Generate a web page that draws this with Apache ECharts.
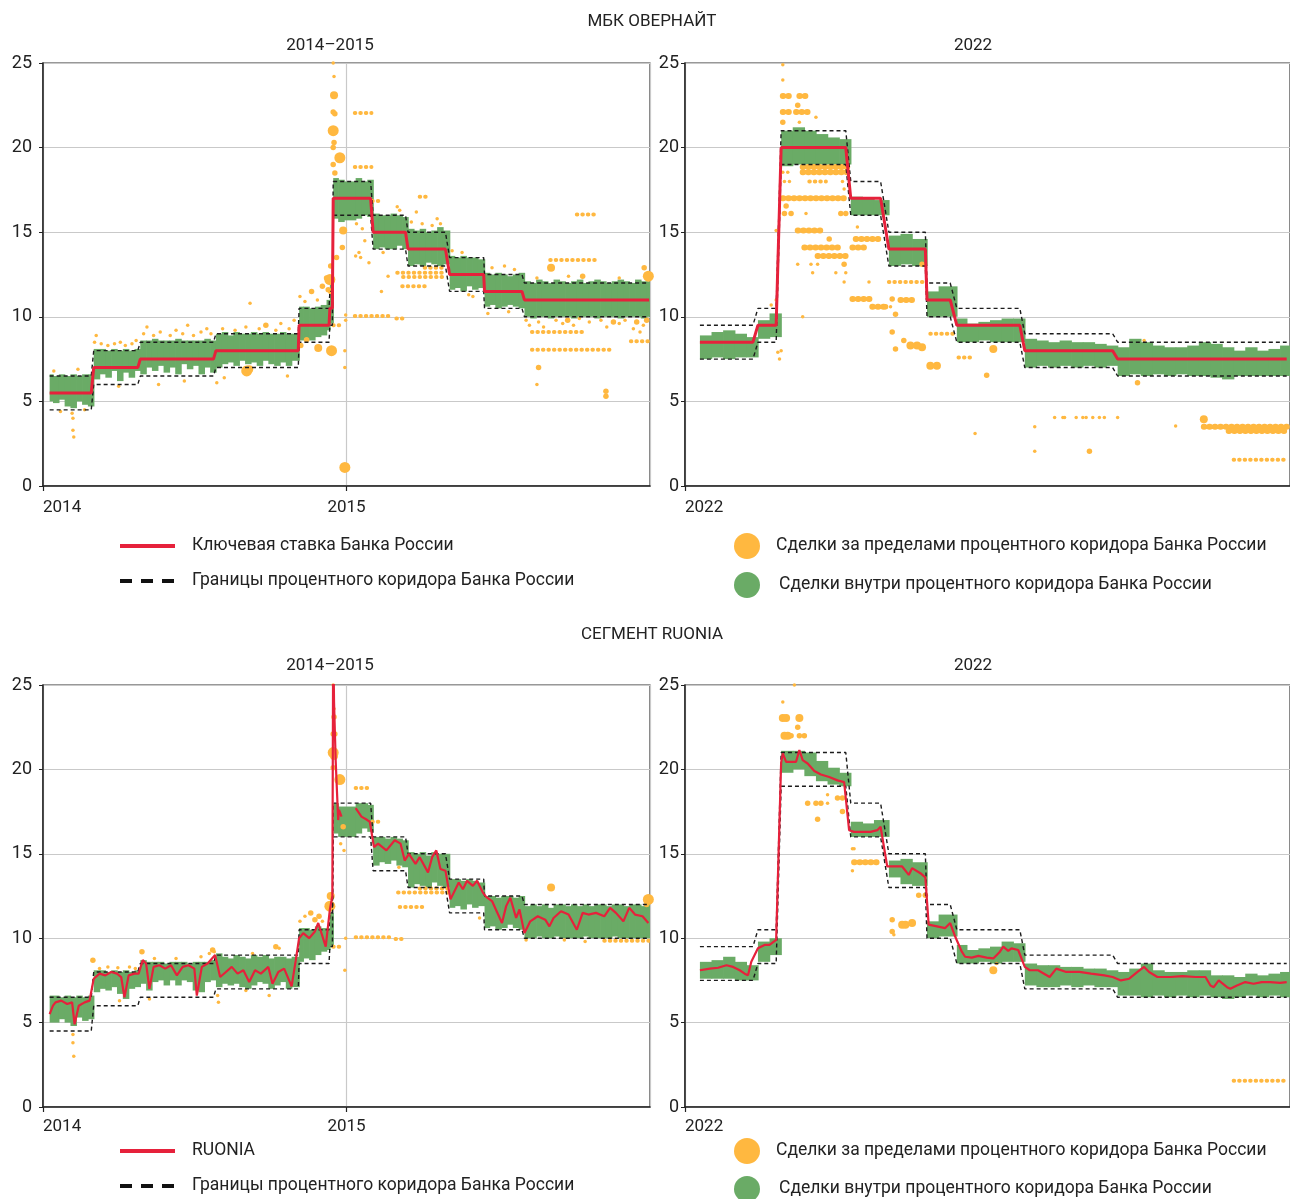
<!DOCTYPE html>
<html><head><meta charset="utf-8">
<script src="https://cdn.jsdelivr.net/npm/echarts/dist/echarts.min.js"></script>
<style>html,body{margin:0;padding:0;background:#fff}#c{width:1290px;height:1199px}</style>
</head><body><div id="c"></div><script>
// ---------- key rate & corridor ----------
const stepDates14 = ["2014-01-09","2014-02-28","2014-03-03","2014-04-25","2014-04-28","2014-07-25","2014-07-28","2014-11-04","2014-11-05","2014-12-11","2014-12-12","2014-12-15","2014-12-16","2015-01-30","2015-02-02","2015-03-13","2015-03-16","2015-04-30","2015-05-05","2015-06-15","2015-06-16","2015-07-31","2015-08-03","2015-12-31"];
const keyRate14  = [5.5,5.5,7,7,7.5,7.5,8,8,9.5,9.5,10.5,10.5,17,17,15,15,14,14,12.5,12.5,11.5,11.5,11,11];
const corrLow14  = [4.5,4.5,6,6,6.5,6.5,7,7,8.5,8.5,9.5,9.5,16,16,14,14,13,13,11.5,11.5,10.5,10.5,10,10];
const corrHigh14 = [6.5,6.5,8,8,8.5,8.5,9,9,10.5,10.5,11.5,11.5,18,18,16,16,15,15,13.5,13.5,12.5,12.5,12,12];

const stepDates22 = ["2022-01-10","2022-02-11","2022-02-14","2022-02-25","2022-02-28","2022-04-08","2022-04-11","2022-04-29","2022-05-04","2022-05-26","2022-05-27","2022-06-10","2022-06-14","2022-07-22","2022-07-25","2022-09-16","2022-09-19","2022-12-30"];
const keyRate22  = [8.5,8.5,9.5,9.5,20,20,17,17,14,14,11,11,9.5,9.5,8,8,7.5,7.5];
const corrLow22  = [7.5,7.5,8.5,8.5,19,19,16,16,13,13,10,10,8.5,8.5,7,7,6.5,6.5];
const corrHigh22 = [9.5,9.5,10.5,10.5,21,21,18,18,15,15,12,12,10.5,10.5,9,9,8.5,8.5];

// ---------- deals inside corridor: [week start, low, high] ----------
const mbkInside14 = [
["2014-01-09",5.0,6.6],["2014-01-13",4.9,6.5],["2014-01-20",5.1,6.6],["2014-01-27",4.7,6.5],["2014-02-03",4.6,6.6],["2014-02-10",5.0,6.5],["2014-02-17",4.8,6.6],["2014-02-24",4.7,6.6],
["2014-03-03",6.3,8.1],["2014-03-10",6.6,8.1],["2014-03-17",6.4,8.0],["2014-03-24",6.8,8.1],["2014-03-31",6.2,8.0],["2014-04-07",6.7,8.1],["2014-04-14",6.4,8.0],["2014-04-21",6.8,8.1],
["2014-04-28",6.6,8.6],["2014-05-05",7.0,8.6],["2014-05-12",6.8,8.7],["2014-05-19",7.1,8.6],["2014-05-26",6.7,8.6],["2014-06-02",7.0,8.6],["2014-06-09",6.6,8.7],["2014-06-16",7.2,8.6],["2014-06-23",6.9,8.6],["2014-06-30",7.1,8.6],["2014-07-07",6.6,8.6],["2014-07-14",7.0,8.7],["2014-07-21",6.7,8.6],
["2014-07-28",7.0,9.0],["2014-08-04",7.2,9.1],["2014-08-11",7.3,8.9],["2014-08-18",7.1,9.1],["2014-08-25",7.4,9.0],["2014-09-01",7.2,9.0],["2014-09-08",7.3,9.1],["2014-09-15",7.1,9.0],["2014-09-22",7.4,9.1],["2014-09-29",7.2,9.0],["2014-10-06",7.1,9.0],["2014-10-13",7.3,9.1],["2014-10-20",7.1,9.0],["2014-10-27",7.4,9.0],
["2014-11-05",8.6,10.6],["2014-11-10",8.7,10.6],["2014-11-17",8.6,10.5],["2014-11-24",8.8,10.6],["2014-12-01",8.9,10.7],["2014-12-08",9.2,11.0],
["2014-12-12",9.6,12.0],["2014-12-16",15.8,18.2],["2014-12-22",15.6,18.1],["2014-12-29",15.7,18.0],["2015-01-12",15.8,18.2],["2015-01-19",16.0,18.0],["2015-01-26",15.9,18.1],
["2015-02-02",14.0,16.1],["2015-02-09",14.1,16.0],["2015-02-16",14.0,16.0],["2015-02-23",14.0,16.1],["2015-03-02",14.2,16.0],["2015-03-09",14.0,15.9],
["2015-03-16",13.0,15.2],["2015-03-23",13.1,15.1],["2015-03-30",13.0,15.2],["2015-04-06",13.2,15.0],["2015-04-13",13.1,15.1],["2015-04-20",13.0,15.3],["2015-04-27",13.1,15.1],
["2015-05-05",11.6,13.6],["2015-05-11",11.7,13.5],["2015-05-18",11.5,13.6],["2015-05-25",11.8,13.5],["2015-06-01",11.6,13.5],["2015-06-08",11.7,13.4],
["2015-06-16",10.6,12.6],["2015-06-22",10.7,12.5],["2015-06-29",10.5,12.6],["2015-07-06",10.6,12.5],["2015-07-13",10.7,12.4],["2015-07-20",10.6,12.5],["2015-07-27",10.5,12.6],
["2015-08-03",10.0,12.1],["2015-08-10",9.9,12.0],["2015-08-17",10.0,12.2],["2015-08-24",10.0,12.1],["2015-08-31",9.9,12.0],["2015-09-07",10.0,12.2],["2015-09-14",10.0,12.1],["2015-09-21",10.0,12.0],["2015-09-28",9.9,12.1],["2015-10-05",10.0,12.2],["2015-10-12",10.0,12.0],["2015-10-19",10.0,12.1],["2015-10-26",9.9,12.2],["2015-11-02",10.0,12.1],["2015-11-09",10.0,12.0],["2015-11-16",10.0,12.1],["2015-11-23",9.9,12.2],["2015-11-30",10.0,12.1],["2015-12-07",10.0,12.0],["2015-12-14",10.0,12.2],["2015-12-21",9.9,12.1],["2015-12-28",10.0,12.1]
];
const mbkInside22 = [
["2022-01-10",7.5,8.9],["2022-01-17",7.6,9.1],["2022-01-24",7.5,9.2],["2022-01-31",7.6,9.0],["2022-02-07",7.6,8.8],
["2022-02-14",8.7,9.8],["2022-02-21",8.8,10.2],
["2022-02-28",18.9,21.0],["2022-03-07",19.0,21.2],["2022-03-14",19.0,21.0],["2022-03-21",19.0,20.8],["2022-03-28",19.0,20.6],["2022-04-04",19.0,20.5],
["2022-04-11",16.0,17.1],["2022-04-18",16.0,17.0],["2022-04-25",16.0,16.9],
["2022-05-04",13.0,14.8],["2022-05-11",13.1,14.9],["2022-05-18",13.0,14.6],
["2022-05-27",10.0,11.5],["2022-06-03",10.0,11.8],
["2022-06-14",8.5,9.9],["2022-06-20",8.5,9.6],["2022-06-27",8.6,9.7],["2022-07-04",8.5,9.8],["2022-07-11",8.5,9.9],["2022-07-18",8.5,9.9],
["2022-07-25",7.0,8.7],["2022-08-01",7.1,8.6],["2022-08-08",7.0,8.5],["2022-08-15",7.1,8.6],["2022-08-22",7.0,8.5],["2022-08-29",7.1,8.5],["2022-09-05",7.0,8.4],["2022-09-12",7.1,8.3],
["2022-09-19",6.5,8.2],["2022-09-26",6.6,8.7],["2022-10-03",6.5,8.5],["2022-10-10",6.6,8.3],["2022-10-17",6.5,8.2],["2022-10-24",6.6,8.2],["2022-10-31",6.5,8.3],["2022-11-07",6.5,8.5],["2022-11-14",6.4,8.4],["2022-11-21",6.3,8.2],["2022-11-28",6.5,8.0],["2022-12-05",6.5,8.2],["2022-12-12",6.5,8.0],["2022-12-19",6.5,8.1],["2022-12-26",6.5,8.3]
];
const ruoniaInside14 = [
["2014-01-09",5.0,6.6],["2014-01-20",5.2,6.5],["2014-01-27",5.0,6.6],["2014-02-03",4.8,6.5],["2014-02-10",5.3,6.6],["2014-02-17",5.1,6.5],["2014-02-24",5.2,6.6],
["2014-03-03",6.8,8.1],["2014-03-10",7.0,8.1],["2014-03-17",6.9,8.0],["2014-03-24",7.1,8.1],["2014-03-31",6.7,8.0],["2014-04-07",6.4,8.1],["2014-04-14",7.0,8.0],["2014-04-21",7.1,8.1],
["2014-04-28",7.3,8.7],["2014-05-05",6.9,8.6],["2014-05-12",7.4,8.6],["2014-05-19",7.5,8.6],["2014-05-26",7.2,8.5],["2014-06-02",7.5,8.6],["2014-06-09",7.2,8.6],["2014-06-16",7.5,8.6],["2014-06-23",7.4,8.5],["2014-06-30",6.9,8.6],["2014-07-07",6.8,8.6],["2014-07-14",7.4,8.6],["2014-07-21",7.5,8.7],
["2014-07-28",7.1,9.1],["2014-08-04",7.3,8.9],["2014-08-11",7.2,8.8],["2014-08-18",7.3,9.0],["2014-08-25",7.1,8.9],["2014-09-01",7.0,8.8],["2014-09-08",7.2,9.0],["2014-09-15",7.4,8.9],["2014-09-22",7.3,9.0],["2014-09-29",7.0,8.8],["2014-10-06",7.2,8.9],["2014-10-13",7.4,8.9],["2014-10-20",7.0,8.8],["2014-10-27",7.1,8.9],
["2014-11-05",8.6,10.6],["2014-11-10",8.8,10.6],["2014-11-17",8.7,10.5],["2014-11-24",9.0,10.7],["2014-12-01",9.2,10.6],["2014-12-08",9.3,10.6],
["2014-12-12",9.5,11.5],["2014-12-16",16.2,18.0],["2014-12-22",16.0,17.8],["2015-01-12",16.2,18.0],["2015-01-19",16.5,18.0],["2015-01-26",16.3,17.9],
["2015-02-02",14.3,16.0],["2015-02-09",14.5,16.0],["2015-02-16",14.4,15.9],["2015-02-23",14.6,16.0],["2015-03-02",14.3,15.9],["2015-03-09",14.2,15.8],
["2015-03-16",13.0,15.1],["2015-03-23",13.2,15.0],["2015-03-30",13.1,15.1],["2015-04-06",13.0,14.9],["2015-04-13",13.3,15.1],["2015-04-20",13.1,15.0],["2015-04-27",13.0,15.0],
["2015-05-05",11.8,13.5],["2015-05-11",11.9,13.5],["2015-05-18",11.7,13.4],["2015-05-25",12.0,13.5],["2015-06-01",11.8,13.4],["2015-06-08",11.9,13.3],
["2015-06-16",10.6,12.5],["2015-06-22",10.7,12.5],["2015-06-29",10.5,12.4],["2015-07-06",10.6,12.5],["2015-07-13",10.8,12.5],["2015-07-20",10.6,12.4],["2015-07-27",10.5,12.5],
["2015-08-03",10.0,11.9],["2015-08-10",10.0,12.0],["2015-08-17",10.1,11.9],["2015-08-24",10.0,12.0],["2015-08-31",10.0,11.8],["2015-09-07",10.1,12.0],["2015-09-14",10.0,12.0],["2015-09-21",10.0,11.9],["2015-09-28",10.0,12.0],["2015-10-05",10.0,11.9],["2015-10-12",10.1,12.0],["2015-10-19",10.0,11.9],["2015-10-26",10.0,12.0],["2015-11-02",10.0,12.0],["2015-11-09",10.0,11.9],["2015-11-16",10.1,12.0],["2015-11-23",10.0,12.0],["2015-11-30",10.0,11.9],["2015-12-07",10.0,12.0],["2015-12-14",10.0,12.0],["2015-12-21",10.0,11.9],["2015-12-28",10.0,12.0]
];
const ruoniaInside22 = [
["2022-01-10",7.6,8.6],["2022-01-17",7.6,8.7],["2022-01-24",7.6,8.9],["2022-01-31",7.5,8.6],["2022-02-07",7.5,8.4],
["2022-02-14",8.6,9.8],["2022-02-21",9.0,10.0],
["2022-02-28",19.8,21.1],["2022-03-07",20.0,21.1],["2022-03-14",19.6,21.0],["2022-03-21",19.3,20.5],["2022-03-28",19.1,20.1],["2022-04-04",19.0,19.8],
["2022-04-11",16.0,16.9],["2022-04-18",16.0,16.8],["2022-04-25",16.0,17.0],
["2022-05-04",13.6,14.6],["2022-05-11",13.2,14.7],["2022-05-18",13.1,14.5],
["2022-05-27",10.0,11.0],["2022-06-03",10.1,11.4],
["2022-06-14",8.5,9.6],["2022-06-20",8.5,9.3],["2022-06-27",8.6,9.4],["2022-07-04",8.5,9.5],["2022-07-11",8.6,9.8],["2022-07-18",8.6,9.7],
["2022-07-25",7.2,8.5],["2022-08-01",7.1,8.4],["2022-08-08",7.1,8.4],["2022-08-15",7.2,8.3],["2022-08-22",7.1,8.3],["2022-08-29",7.2,8.2],["2022-09-05",7.1,8.2],["2022-09-12",7.1,8.1],
["2022-09-19",6.6,8.0],["2022-09-26",6.6,8.2],["2022-10-03",6.5,8.5],["2022-10-10",6.6,8.1],["2022-10-17",6.5,8.0],["2022-10-24",6.6,8.0],["2022-10-31",6.5,8.1],["2022-11-07",6.6,8.1],["2022-11-14",6.5,7.8],["2022-11-21",6.4,7.8],["2022-11-28",6.5,7.7],["2022-12-05",6.6,7.9],["2022-12-12",6.5,7.8],["2022-12-19",6.6,7.9],["2022-12-26",6.5,8.0]
];

// ---------- deals outside corridor: [date, rate, volume class] ----------
const mbkOutside14 = [
["2014-01-22",4.4,1],["2014-02-05",4.3,1],["2014-02-06",4.0,1],["2014-02-06",3.3,1],["2014-02-07",2.9,1],["2014-02-20",4.5,1],["2014-01-14",6.8,1],["2014-02-12",6.9,1],
["2014-03-04",8.5,1],["2014-03-06",8.9,1],["2014-03-12",8.4,1],["2014-03-20",8.3,1],["2014-03-28",8.4,1],["2014-04-04",8.5,1],["2014-04-10",8.3,1],["2014-04-18",8.4,1],["2014-04-23",8.6,1],["2014-04-02",5.9,1],
["2014-05-02",9.0,1],["2014-05-06",9.4,1],["2014-05-14",8.9,1],["2014-05-22",9.1,1],["2014-06-03",8.9,1],["2014-06-10",9.2,1],["2014-06-18",9.0,1],["2014-06-24",9.5,1],["2014-07-01",8.9,1],["2014-07-10",9.1,1],["2014-07-17",9.3,1],["2014-07-22",9.0,1],["2014-05-20",6.0,1],["2014-06-20",6.2,1],["2014-07-29",6.1,1],
["2014-08-05",9.3,1],["2014-08-20",9.2,1],["2014-09-02",9.4,1],["2014-09-18",9.3,1],["2014-09-26",9.5,2],["2014-10-08",9.2,1],["2014-10-14",9.6,1],["2014-10-24",9.3,1],["2014-10-30",9.8,1],["2014-09-07",10.8,1],["2014-08-07",6.4,1],["2014-10-22",6.5,1],["2014-09-03",6.8,4],["2014-09-06",6.9,3],
["2014-11-06",11.2,1],["2014-11-12",10.9,1],["2014-11-20",11.5,2],["2014-11-27",11.0,1],["2014-12-03",11.8,2],["2014-12-08",12.3,2],["2014-12-10",11.6,2],["2014-12-11",12.2,3],["2014-11-07",8.3,2],["2014-11-14",8.65,2],["2014-11-28",8.15,3],["2014-12-14",8.0,4],
["2014-12-16",25.0,1],["2014-12-17",24.2,1],["2014-12-17",23.1,3],["2014-12-16",22.1,2],["2014-12-18",22.0,2],["2014-12-16",21.0,4],["2014-12-16",20.0,2],["2014-12-17",20.3,2],["2014-12-24",19.4,4],["2014-12-16",19.0,2],["2014-12-18",18.5,2],["2014-12-28",15.1,3],["2014-12-27",14.1,2],["2014-12-20",13.5,2],["2014-12-13",13.0,2],["2014-12-12",12.2,4],["2014-12-13",11.5,2],["2014-12-30",1.1,4],["2014-12-30",8.0,1],["2014-12-30",7.0,1],["2014-12-31",9.8,1],["2014-12-31",10.1,1],
["2015-01-12",13.6,1],["2015-01-18",13.5,1],["2015-01-16",13.8,1],["2015-01-23",14.5,1],["2015-01-28",13.2,1],["2015-01-13",15.5,1],["2015-01-20",15.2,1],
["2015-02-12",11.5,1],["2015-02-20",12.4,1],["2015-02-14",13.8,1],["2015-03-03",16.5,1],["2015-03-06",16.3,1],
["2015-03-20",15.6,1],["2015-03-26",16.2,1],["2015-04-02",15.5,1],["2015-04-14",15.4,1],["2015-04-20",15.8,1],["2015-04-24",15.5,1],
["2015-08-05",9.8,1],["2015-08-09",9.5,1],["2015-08-20",9.7,1],["2015-08-26",9.4,1],["2015-09-10",9.8,1],["2015-09-18",9.6,1],["2015-09-24",9.8,2],["2015-10-01",9.5,1],["2015-10-08",9.9,1],["2015-10-20",9.7,1],["2015-11-03",9.8,1],["2015-11-10",9.4,1],["2015-11-18",9.7,2],["2015-11-25",9.6,1],["2015-12-02",9.8,1],["2015-12-12",9.3,1],["2015-12-16",9.7,2],["2015-12-20",9.1,1],["2015-12-24",9.5,1],["2015-12-28",9.8,2],
["2015-09-04",12.9,3],["2015-08-18",12.3,1],["2015-09-25",12.4,1],["2015-10-12",12.4,2],["2015-12-25",12.9,2],["2015-12-30",12.4,4],["2015-11-25",12.3,1],
["2015-08-20",7.0,2],["2015-08-18",6.0,1],["2015-11-09",5.6,2],["2015-11-09",5.3,2],
["2015-05-08",13.9,1],["2015-05-20",13.8,1],["2015-06-25",12.9,1],["2015-07-10",13.0,1],["2015-07-22",12.8,1],["2015-06-20",10.2,1],["2015-07-15",10.3,1],["2015-06-02",11.2,1],["2015-05-28",11.3,1]
];
// repeated deals at one rate: [first date, last date, rate, volume class]
const mbkRuns14 = [
["2014-12-16","2014-12-28",9.5,1],
["2015-01-11","2015-01-31",22.05,1],["2015-01-11","2015-01-31",18.85,1],
["2015-02-01","2015-02-11",16.85,1],["2015-03-30","2015-04-08",17.1,1],
["2015-01-11","2015-02-26",10.05,1],["2015-03-02","2015-03-10",9.9,1],
["2015-03-03","2015-04-30",12.6,1],["2015-03-10","2015-04-28",12.35,1],["2015-03-09","2015-04-08",11.8,1],["2015-04-05","2015-04-30",12.9,1],
["2015-09-03","2015-10-30",13.35,1],["2015-10-05","2015-10-30",16.05,1],
["2015-08-12","2015-10-15",9.1,1],["2015-08-12","2015-11-14",8.05,1],["2015-12-09","2015-12-31",8.55,1]
];
const mbkOutside22 = [
["2022-03-01",24.9,1],["2022-03-01",24.0,1],["2022-03-10",22.5,2],["2022-03-21",21.8,1],["2022-03-01",21.5,2],["2022-03-11",21.5,1],
["2022-03-01",18.55,1],["2022-03-04",18.55,1],["2022-03-02",18.0,1],["2022-03-05",18.0,1],["2022-04-07",17.55,1],["2022-04-06",18.0,1],
["2022-03-03",16.55,2],["2022-03-02",16.1,2],["2022-03-06",16.1,2],["2022-03-15",16.1,1],["2022-04-05",16.1,2],["2022-04-08",16.1,2],
["2022-02-25",15.1,1],["2022-04-15",15.3,1],["2022-03-29",14.6,2],["2022-03-10",13.1,1],["2022-03-18",13.1,1],["2022-03-22",13.1,1],["2022-04-07",13.1,2],["2022-05-24",13.1,2],
["2022-03-19",12.6,1],["2022-04-02",12.6,1],["2022-04-08",12.6,1],["2022-04-07",12.05,1],["2022-04-22",12.05,1],
["2022-05-06",11.05,2],["2022-05-02",10.6,2],["2022-05-05",10.6,1],["2022-05-08",10.15,2],["2022-03-13",10.0,1],["2022-05-06",9.1,2],["2022-05-13",8.6,2],["2022-05-17",8.3,3],["2022-05-21",8.3,3],["2022-05-24",8.2,3],["2022-05-08",8.1,2],["2022-07-06",8.1,3],
["2022-05-29",7.1,3],["2022-06-02",7.1,3],["2022-07-02",6.55,2],["2022-10-01",6.1,2],["2022-07-31",3.5,1],["2022-07-31",2.05,1],["2022-09-02",2.05,2],["2022-06-25",3.1,1],["2022-10-24",3.55,1],["2022-11-10",3.95,3],["2022-10-05",8.6,1],
["2022-02-27",7.5,1],["2022-02-26",7.9,1],["2022-02-28",8.0,1],["2022-02-22",10.7,1],["2022-02-25",11.0,1],
["2022-08-12",4.05,1],["2022-08-17",4.05,1],["2022-08-18",4.05,1],["2022-08-25",4.05,1],["2022-08-29",4.05,1],["2022-08-31",4.05,1],["2022-09-04",4.05,1],["2022-09-08",4.05,1],["2022-09-11",4.05,1],["2022-09-19",4.05,1]
];
const mbkRuns22 = [
["2022-03-01","2022-03-06",23.05,2],["2022-03-11","2022-03-16",23.05,2],["2022-03-01","2022-03-06",22.1,2],["2022-03-09","2022-03-17",22.1,2],
["2022-03-13","2022-04-09",18.55,2],["2022-03-13","2022-04-09",18.85,2],["2022-03-17","2022-03-27",18.0,1],
["2022-03-01","2022-04-09",17.0,2],["2022-03-10","2022-03-25",15.1,2],["2022-03-14","2022-04-06",14.1,2],["2022-04-12","2022-04-21",14.1,2],["2022-04-14","2022-04-30",14.6,2],["2022-03-22","2022-04-09",13.6,2],
["2022-05-04","2022-05-26",12.05,1],["2022-04-12","2022-04-24",11.05,2],["2022-05-11","2022-05-20",11.0,2],["2022-04-24","2022-05-02",10.6,2],
["2022-05-29","2022-06-12",9.0,1],["2022-06-15","2022-06-23",7.6,1],
["2022-11-10","2022-12-31",3.5,2],["2022-11-25","2022-12-31",3.25,2],["2022-11-28","2022-12-31",1.55,1]
];
const ruoniaOutside14 = [
["2014-02-06",4.3,1],["2014-02-06",3.8,1],["2014-02-07",3.0,1],["2014-03-02",8.7,2],["2014-03-10",8.2,1],["2014-03-20",8.3,1],["2014-04-01",8.25,1],["2014-04-15",8.3,1],["2014-04-22",8.2,1],
["2014-04-30",9.2,2],["2014-05-15",8.8,1],["2014-06-10",8.8,1],["2014-07-10",8.9,1],["2014-07-20",9.1,1],["2014-07-24",9.3,2],["2014-07-26",9.2,1],["2014-09-10",9.1,1],["2014-10-08",9.5,2],["2014-10-12",9.4,1],
["2014-07-30",6.6,1],["2014-07-31",6.2,1],["2014-09-02",6.9,1],["2014-09-30",6.6,1],["2014-05-09",6.4,1],["2014-04-03",6.3,1],
["2014-11-06",11.0,1],["2014-11-12",11.3,1],["2014-11-19",11.5,2],["2014-11-24",11.1,2],["2014-11-29",11.3,2],["2014-12-03",11.0,1],["2014-12-12",11.9,4],["2014-12-13",12.5,3],
["2014-12-16",25.0,1],["2014-12-17",23.6,1],["2014-12-17",23.1,2],["2014-12-16",22.1,2],["2014-12-18",22.1,2],["2014-12-16",21.0,4],["2014-12-17",20.8,3],["2014-12-16",20.1,2],["2014-12-24",19.4,4],["2014-12-28",16.6,2],["2014-12-25",15.6,1],["2014-12-29",15.2,1],["2014-12-30",8.1,1],["2014-12-31",10.0,1],
["2015-03-05",14.2,1],["2015-09-04",13.0,3],["2015-12-30",12.3,4],["2015-12-28",12.0,2],["2015-06-10",11.2,1],["2015-08-05",9.9,1],["2015-09-20",9.9,1],["2015-10-15",9.8,1]
];
const ruoniaRuns14 = [
["2014-12-16","2014-12-28",9.5,1],["2015-01-12","2015-01-29",18.9,1],["2015-02-01","2015-02-11",16.9,1],["2015-01-12","2015-02-26",10.05,1],["2015-03-01","2015-03-10",9.95,1],
["2015-03-04","2015-05-07",12.7,1],["2015-03-30","2015-05-05",12.95,1],["2015-03-06","2015-04-06",11.85,1],["2015-11-07","2015-12-31",9.85,1]
];
const ruoniaOutside22 = [
["2022-03-08",25.0,1],["2022-03-01",24.0,1],["2022-03-01",23.05,3],["2022-03-03",23.05,3],["2022-03-11",23.05,3],["2022-03-10",22.5,2],["2022-03-02",22.0,3],["2022-03-04",22.0,3],["2022-03-06",22.0,2],["2022-03-11",22.0,2],["2022-03-14",22.0,2],
["2022-03-16",18.0,2],["2022-03-21",18.0,2],["2022-03-24",18.0,2],["2022-03-28",18.0,1],["2022-03-28",18.5,1],["2022-04-03",18.3,2],["2022-04-06",18.3,2],["2022-04-06",17.5,2],["2022-03-22",17.05,2],
["2022-04-12",15.3,1],["2022-04-13",15.3,1],["2022-04-12",14.0,1],["2022-05-22",12.55,2],["2022-05-26",12.55,2],["2022-05-06",11.1,2],["2022-05-06",10.4,2],["2022-05-07",10.2,1],["2022-05-12",10.8,3],["2022-05-14",10.8,3],["2022-05-18",10.9,3],["2022-07-06",8.1,3],["2022-07-08",8.5,1]
];
const ruoniaRuns22 = [
["2022-04-13","2022-04-29",14.5,2],["2022-11-28","2022-12-31",1.55,1]
];

// ---------- RUONIA ----------
const ruonia14 = [
["2014-01-09",5.5],["2014-01-13",6.0],["2014-01-16",6.2],["2014-01-23",6.3],["2014-01-30",6.1],["2014-02-05",6.2],["2014-02-08",4.9],["2014-02-13",6.0],["2014-02-20",6.2],["2014-02-26",6.3],
["2014-03-03",7.6],["2014-03-10",7.9],["2014-03-17",7.8],["2014-03-24",8.0],["2014-03-31",7.9],["2014-04-05",7.7],["2014-04-09",6.5],["2014-04-14",7.8],["2014-04-21",7.9],["2014-04-26",7.9],
["2014-05-01",8.7],["2014-05-05",8.5],["2014-05-09",7.0],["2014-05-14",8.3],["2014-05-21",8.4],["2014-05-28",8.2],["2014-06-04",8.4],["2014-06-11",7.8],["2014-06-18",8.3],["2014-06-25",8.4],["2014-07-02",8.2],["2014-07-05",6.6],["2014-07-11",8.3],["2014-07-18",8.5],["2014-07-27",9.0],
["2014-08-02",7.7],["2014-08-09",8.0],["2014-08-16",8.3],["2014-08-23",7.9],["2014-08-30",8.1],["2014-09-06",7.4],["2014-09-13",8.1],["2014-09-20",7.9],["2014-09-29",8.3],["2014-10-04",7.3],["2014-10-11",8.0],["2014-10-18",8.2],["2014-10-27",7.15],["2014-11-01",8.7],
["2014-11-05",10.0],["2014-11-10",10.3],["2014-11-17",10.0],["2014-11-24",10.4],["2014-11-28",10.9],["2014-12-07",9.5],["2014-12-12",11.7],["2014-12-15",12.5],["2014-12-16",28.0],["2014-12-17",24.0],["2014-12-19",20.5],["2014-12-22",17.0],["2014-12-23",17.6],["2014-12-26",17.2],["2015-01-01",null],
["2015-01-12",17.7],["2015-01-19",17.2],["2015-01-26",17.0],["2015-01-29",16.9],["2015-02-03",15.4],["2015-02-08",15.6],["2015-02-18",15.2],["2015-02-28",15.8],["2015-03-07",15.6],["2015-03-12",14.6],["2015-03-17",15.0],["2015-03-25",14.4],["2015-03-30",14.8],["2015-04-09",13.9],["2015-04-14",14.8],["2015-04-19",15.2],["2015-04-24",14.1],["2015-04-30",14.0],
["2015-05-06",12.3],["2015-05-16",13.3],["2015-05-21",12.9],["2015-05-26",13.4],["2015-06-02",13.1],["2015-06-07",13.4],["2015-06-14",12.7],["2015-06-18",12.45],["2015-06-25",12.2],["2015-07-07",10.9],["2015-07-12",11.9],["2015-07-17",12.4],["2015-07-24",11.2],["2015-07-28",11.7],["2015-08-03",10.3],["2015-08-10",11.0],["2015-08-19",11.3],["2015-08-28",11.1],["2015-09-02",10.7],["2015-09-07",11.2],["2015-09-16",11.6],["2015-09-25",11.4],["2015-10-05",10.5],["2015-10-12",11.5],["2015-10-19",11.4],["2015-10-28",11.5],["2015-11-07",11.3],["2015-11-14",11.8],["2015-11-21",11.5],["2015-11-30",11.0],["2015-12-07",11.8],["2015-12-14",11.4],["2015-12-23",11.3],["2015-12-30",10.9]
];
const ruonia22 = [
["2022-01-10",8.1],["2022-01-16",8.2],["2022-01-21",8.25],["2022-01-26",8.4],["2022-01-30",8.3],["2022-02-03",8.1],["2022-02-06",7.9],["2022-02-08",7.8],["2022-02-10",8.6],["2022-02-14",9.4],["2022-02-18",9.6],["2022-02-21",9.6],["2022-02-25",9.9],
["2022-02-28",20.4],["2022-03-01",20.95],["2022-03-03",20.45],["2022-03-07",20.45],["2022-03-09",20.45],["2022-03-11",21.15],["2022-03-13",20.55],["2022-03-16",20.35],["2022-03-20",19.9],["2022-03-24",19.7],["2022-03-29",19.55],["2022-04-03",19.35],["2022-04-07",19.25],["2022-04-08",19.35],
["2022-04-10",16.4],["2022-04-13",16.3],["2022-04-18",16.3],["2022-04-23",16.3],["2022-04-27",16.4],["2022-04-29",16.6],
["2022-05-03",14.25],["2022-05-07",14.25],["2022-05-12",14.25],["2022-05-16",13.75],["2022-05-18",14.15],["2022-05-23",13.85],["2022-05-26",13.6],
["2022-05-28",10.8],["2022-06-02",10.7],["2022-06-07",10.6],["2022-06-10",10.9],["2022-06-13",10.1],["2022-06-17",9.2],["2022-06-19",8.9],["2022-06-23",8.85],["2022-06-27",8.95],["2022-07-02",8.85],["2022-07-06",8.8],["2022-07-10",9.2],["2022-07-12",9.5],["2022-07-15",9.25],["2022-07-17",9.4],["2022-07-21",9.3],
["2022-07-25",8.3],["2022-07-28",8.1],["2022-08-02",8.1],["2022-08-09",7.7],["2022-08-13",8.2],["2022-08-19",8.0],["2022-08-27",8.0],["2022-09-03",7.9],["2022-09-11",7.8],["2022-09-16",7.7],["2022-09-21",7.5],["2022-09-26",7.6],["2022-10-01",8.0],["2022-10-05",8.3],["2022-10-08",8.0],["2022-10-13",7.7],["2022-10-21",7.7],["2022-10-28",7.75],["2022-11-05",7.7],["2022-11-11",7.7],["2022-11-14",7.2],["2022-11-16",7.1],["2022-11-19",7.5],["2022-11-24",7.1],["2022-11-26",7.0],["2022-11-30",7.2],["2022-12-05",7.4],["2022-12-10",7.3],["2022-12-15",7.4],["2022-12-20",7.4],["2022-12-26",7.35],["2022-12-30",7.4]
];

// ---------- text ----------
const titleTop = "МБК ОВЕРНАЙТ", titleBottom = "СЕГМЕНТ RUONIA";
const sub14 = "2014–2015", sub22 = "2022";
const N_KEY = "Ключевая ставка Банка России";
const N_CORR = "Границы процентного коридора Банка России";
const N_OUT = "Сделки за пределами процентного коридора Банка России";
const N_IN = "Сделки внутри процентного коридора Банка России";
const N_RU = "RUONIA";

// ---------- styling ----------
const FONT = "Roboto, 'Noto Sans', sans-serif";
const TXT = "#222";
const RED = "#e6213b", ORANGE = "#ffb840", GREEN = "#6aab66", DASH = "#1c1c1c", GRID = "#c9c9c9";
const SIZE_PX = [0, 3.5, 5.5, 8, 11];
const RUN_W = [0, 4, 6];
const DASH_ICON = 'path://M0,0h12v4h-12z M21,0h12v4h-12z M42,0h12v4h-12z';

const DAY = 86400000;
function dayOf(s, base) {
  const a = s.split('-').map(Number), b = base.split('-').map(Number);
  return (Date.UTC(a[0], a[1]-1, a[2]) - Date.UTC(b[0], b[1]-1, b[2])) / DAY;
}

const panels = [
  {grid:{left:43, top:63, width:607, height:423}, base:"2014-01-01", span:730, y0:2014},
  {grid:{left:685, top:63, width:606, height:423}, base:"2022-01-01", span:365, y0:2022},
  {grid:{left:43, top:685, width:607, height:422}, base:"2014-01-01", span:730, y0:2014},
  {grid:{left:685, top:685, width:606, height:422}, base:"2022-01-01", span:365, y0:2022}
];

const grids = panels.map(p => Object.assign({show:true, borderColor:'#333', borderWidth:1.2, backgroundColor:'transparent', containLabel:false}, p.grid));
const xAxes = panels.map((p, i) => ({
  type:'value', gridIndex:i, min:0, max:p.span, interval:365,
  axisLine:{show:true, onZero:false, lineStyle:{color:TXT, width:1.5}},
  axisTick:{show:true, length:5, lineStyle:{color:TXT, width:1.2}},
  axisLabel:{formatter: v => String(p.y0 + Math.round(v/365)), showMaxLabel:false, alignMinLabel:'left', fontSize:17, color:TXT, fontFamily:FONT, margin: i < 2 ? 13 : 11},
  splitLine:{show:true, lineStyle:{color:GRID, width:1.2}}
}));
const yAxes = panels.map((p, i) => ({
  type:'value', gridIndex:i, min:0, max:25, interval:5,
  axisLine:{show:true, lineStyle:{color:TXT, width:1.5}},
  axisTick:{show:true, length:4, lineStyle:{color:TXT}},
  axisLabel:{fontSize:18, color:TXT, fontFamily:FONT, margin: i % 2 ? 6 : 11},
  splitLine:{show:true, lineStyle:{color:GRID, width:1.2}}
}));

function lineSeries(name, dates, values, gi, style, z) {
  const p = panels[gi];
  return {type:'line', name, xAxisIndex:gi, yAxisIndex:gi, showSymbol:false, symbol:'none', z, clip:true,
    data: dates.map((d, k) => [dayOf(d, p.base), values[k] === null ? '-' : values[k]]),
    lineStyle: style, itemStyle:{color: style.color}, silent:true, animation:false};
}
function pairSeries(name, pairs, gi, style, z) {
  return lineSeries(name, pairs.map(r => r[0]), pairs.map(r => r[1]), gi, style, z);
}
function rangeSeries(arr, gi) {
  const p = panels[gi];
  const data = arr.map((r, k) => [dayOf(r[0], p.base), r[1], r[2], k < arr.length-1 ? dayOf(arr[k+1][0], p.base) : p.span]);
  return {type:'custom', name:N_IN, xAxisIndex:gi, yAxisIndex:gi, z:1, clip:true, silent:true, animation:false,
    itemStyle:{color:GREEN}, dimensions:['x0','lo','hi','x1'], encode:{x:[0,3], y:[1,2]}, data,
    renderItem:(params, api) => {
      const a = api.coord([api.value(0), api.value(2)]);
      const b = api.coord([api.value(3), api.value(1)]);
      return {type:'rect', shape:{x:a[0], y:a[1], width:Math.max(1, b[0]-a[0]+0.7), height:b[1]-a[1]}, style:{fill:GREEN}};
    }};
}
function pointSeries(arr, gi) {
  const p = panels[gi];
  return {type:'scatter', name:N_OUT, xAxisIndex:gi, yAxisIndex:gi, z:2, clip:true, silent:true, animation:false,
    data: arr.map(r => [dayOf(r[0], p.base), r[1], r[2]]),
    symbol:'circle', symbolSize: v => SIZE_PX[v[2]], itemStyle:{color:ORANGE, opacity:1}};
}
function runSeries(arr, gi) {
  const p = panels[gi];
  return {type:'custom', name:N_OUT, xAxisIndex:gi, yAxisIndex:gi, z:2, clip:true, silent:true, animation:false,
    itemStyle:{color:ORANGE}, dimensions:['x0','x1','v','w'], encode:{x:[0,1], y:2},
    data: arr.map(r => [dayOf(r[0], p.base), dayOf(r[1], p.base), r[2], r[3]]),
    renderItem:(params, api) => {
      const a = api.coord([api.value(0), api.value(2)]);
      const b = api.coord([api.value(1), api.value(2)]);
      return {type:'line', shape:{x1:a[0], y1:a[1], x2:b[0], y2:b[1]},
        style:{stroke:ORANGE, lineWidth:RUN_W[api.value(3)], lineDash:[0.5, 5], lineCap:'round'}};
    }};
}

const keyStyle = {color:RED, width:3};
const ruStyle = {color:RED, width:2.2};
const corrStyle = {color:DASH, width:1.4, type:[4,3]};

const series = [
  rangeSeries(mbkInside14, 0), pointSeries(mbkOutside14, 0), runSeries(mbkRuns14, 0),
  lineSeries(N_CORR, stepDates14, corrLow14, 0, corrStyle, 3), lineSeries(N_CORR, stepDates14, corrHigh14, 0, corrStyle, 3),
  lineSeries(N_KEY, stepDates14, keyRate14, 0, keyStyle, 4),

  rangeSeries(mbkInside22, 1), pointSeries(mbkOutside22, 1), runSeries(mbkRuns22, 1),
  lineSeries(N_CORR, stepDates22, corrLow22, 1, corrStyle, 3), lineSeries(N_CORR, stepDates22, corrHigh22, 1, corrStyle, 3),
  lineSeries(N_KEY, stepDates22, keyRate22, 1, keyStyle, 4),

  rangeSeries(ruoniaInside14, 2), pointSeries(ruoniaOutside14, 2), runSeries(ruoniaRuns14, 2),
  lineSeries(N_CORR, stepDates14, corrLow14, 2, corrStyle, 3), lineSeries(N_CORR, stepDates14, corrHigh14, 2, corrStyle, 3),
  pairSeries(N_RU, ruonia14, 2, ruStyle, 4),

  rangeSeries(ruoniaInside22, 3), pointSeries(ruoniaOutside22, 3), runSeries(ruoniaRuns22, 3),
  lineSeries(N_CORR, stepDates22, corrLow22, 3, corrStyle, 3), lineSeries(N_CORR, stepDates22, corrHigh22, 3, corrStyle, 3),
  pairSeries(N_RU, ruonia22, 3, ruStyle, 4)
];

const legTxt = {fontSize:17.5, color:TXT, fontFamily:FONT, lineHeight:26};
function legendItem(name, left, cy, icon, w, h, color, pad) {
  return {show:true, selectedMode:false, orient:'vertical', left, top:cy-12, padding:0,
    itemWidth:w, itemHeight:h,
    data:[{name, icon, itemStyle:{color, opacity:1}}], itemStyle:{color},
    textStyle:Object.assign({padding:[0,0,0,pad]}, legTxt)};
}
const legends = [
  legendItem(N_KEY, 120, 545, 'rect', 55, 4, RED, 12),
  legendItem(N_CORR, 120, 580, DASH_ICON, 58, 4, '#111', 11),
  legendItem(N_OUT, 734, 545, 'circle', 26, 26, ORANGE, 11),
  legendItem(N_IN, 734, 584, 'circle', 26, 26, GREEN, 14),
  legendItem(N_RU, 120, 1150, 'rect', 55, 4, RED, 12),
  legendItem(N_CORR, 120, 1185, DASH_ICON, 58, 4, '#111', 11),
  legendItem(N_OUT, 734, 1150, 'circle', 26, 26, ORANGE, 11),
  legendItem(N_IN, 734, 1188, 'circle', 26, 26, GREEN, 14)
];

const tStyle = {fontSize:17, fontWeight:'normal', color:TXT, fontFamily:FONT};
const titles = [
  {text:titleTop, left:652, top:13, padding:0, textAlign:'center', textStyle:tStyle},
  {text:sub14, left:330, top:37, padding:0, textAlign:'center', textStyle:tStyle},
  {text:sub22, left:973, top:37, padding:0, textAlign:'center', textStyle:tStyle},
  {text:titleBottom, left:652, top:626, padding:0, textAlign:'center', textStyle:tStyle},
  {text:sub14, left:330, top:657, padding:0, textAlign:'center', textStyle:tStyle},
  {text:sub22, left:973, top:657, padding:0, textAlign:'center', textStyle:tStyle}
];

const chart = echarts.init(document.getElementById('c'), null, {renderer:'canvas'});
chart.setOption({
  animation:false, backgroundColor:'#fff',
  textStyle:{fontFamily:FONT},
  title:titles, grid:grids, xAxis:xAxes, yAxis:yAxes, legend:legends, series
});
</script></body></html>
